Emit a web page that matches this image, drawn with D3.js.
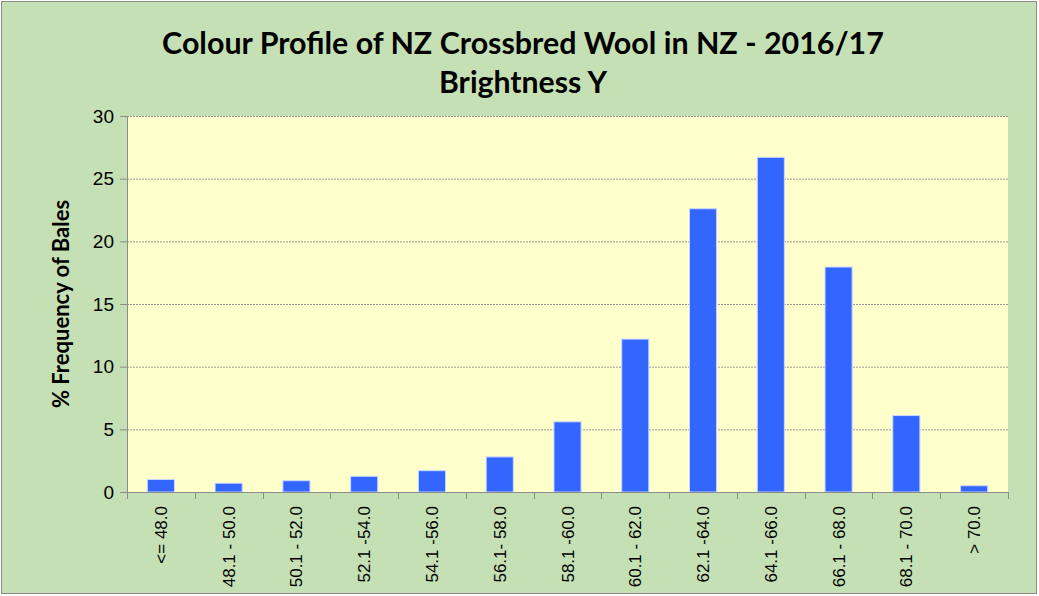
<!DOCTYPE html>
<html>
<head>
<meta charset="utf-8">
<script src="https://cdn.jsdelivr.net/npm/d3@7"></script>
<style>
  html, body { margin: 0; padding: 0; background: #fff; }
  svg { display: block; }
</style>
</head>
<body>
<svg width="1039" height="596"></svg>
<script>
const titleLines = ["Colour Profile of NZ Crossbred Wool in NZ - 2016/17", "Brightness Y"];
const yLabel = "% Frequency of Bales";
const categories = [
  "<= 48.0", "48.1 - 50.0", "50.1 - 52.0", "52.1 -54.0", "54.1 -56.0", "56.1- 58.0",
  "58.1 -60.0", "60.1 - 62.0", "62.1 -64.0", "64.1 -66.0", "66.1 - 68.0", "68.1 - 70.0", "> 70.0",
];
const values = [1.0, 0.7, 0.9, 1.25, 1.7, 2.8, 5.6, 12.2, 22.6, 26.7, 17.95, 6.1, 0.5];
const yTicks = [0, 5, 10, 15, 20, 25, 30];

const W = 1039, H = 596;
const plot = { left: 127, right: 1008, top: 116, bottom: 492 };

const svg = d3.select("svg");

svg.append("rect")
  .attr("x", 1.5).attr("y", 1.5)
  .attr("width", W - 4).attr("height", H - 4)
  .attr("fill", "#c5e0b4")
  .attr("stroke", "#8c8c8c");

svg.append("rect")
  .attr("x", plot.left).attr("y", plot.top)
  .attr("width", plot.right - plot.left).attr("height", plot.bottom - plot.top)
  .attr("fill", "#ffffcc");

const x = d3.scaleBand().domain(categories).range([plot.left, plot.right]).paddingInner(0.6).paddingOuter(0.3);
const y = d3.scaleLinear().domain([0, 30]).range([plot.bottom, plot.top]);

// gridlines
svg.append("g")
  .selectAll("line")
  .data(yTicks.filter(d => d > 0))
  .join("line")
  .attr("x1", plot.left).attr("x2", plot.right)
  .attr("y1", d => y(d) + 0.5).attr("y2", d => y(d) + 0.5)
  .attr("stroke", "#9a9a9a")
  .attr("stroke-dasharray", "2,1");

// bars
svg.append("g")
  .selectAll("rect")
  .data(values)
  .join("rect")
  .attr("x", (d, i) => x(categories[i]))
  .attr("y", d => y(d))
  .attr("width", x.bandwidth())
  .attr("height", d => y(0) - y(d))
  .attr("fill", "#3366ff")
  .attr("stroke", "#c9d6ff")
  .attr("stroke-width", 1);

// y axis
const yAxis = svg.append("g")
  .attr("transform", `translate(${plot.left},0)`)
  .call(d3.axisLeft(y).tickValues(yTicks).tickSize(7).tickPadding(6));
yAxis.select(".domain").attr("stroke", "#8c8c8c");
yAxis.selectAll(".tick line").attr("stroke", "#8c8c8c");
yAxis.selectAll(".tick text")
  .attr("fill", "#000")
  .attr("font-family", "'Liberation Sans', Arial, sans-serif")
  .attr("font-size", 19);

// x axis
const step = x.step();
const boundaries = d3.range(categories.length + 1).map(i => plot.left + i * step);
const xAxisG = svg.append("g");
xAxisG.append("line")
  .attr("x1", plot.left).attr("x2", plot.right)
  .attr("y1", plot.bottom + 0.5).attr("y2", plot.bottom + 0.5)
  .attr("stroke", "#8c8c8c");
xAxisG.selectAll("line.tick")
  .data(boundaries)
  .join("line")
  .attr("class", "tick")
  .attr("x1", d => Math.round(d) + 0.5).attr("x2", d => Math.round(d) + 0.5)
  .attr("y1", plot.bottom).attr("y2", plot.bottom + 7)
  .attr("stroke", "#8c8c8c");
xAxisG.selectAll("text")
  .data(categories)
  .join("text")
  .attr("transform", d => `translate(${x(d) + x.bandwidth() / 2 + 6},${plot.bottom + 14}) rotate(-90)`)
  .attr("text-anchor", "end")
  .attr("font-family", "'Liberation Sans', Arial, sans-serif")
  .attr("font-size", 17)
  .attr("fill", "#000")
  .text(d => d);

// y label
svg.append("text")
  .attr("transform", `translate(69,${(plot.top + plot.bottom) / 2}) rotate(-90)`)
  .attr("text-anchor", "middle")
  .attr("font-family", "Lato, 'Open Sans', sans-serif")
  .attr("font-weight", "bold")
  .attr("font-size", 22)
  .attr("fill", "#000")
  .text(yLabel);

// title
const titleWidths = [722, 168];
svg.selectAll("text.title")
  .data(titleLines)
  .join("text")
  .attr("class", "title")
  .attr("x", 523)
  .attr("y", (d, i) => i === 0 ? 54 : 93)
  .attr("text-anchor", "middle")
  .attr("font-family", "Lato, 'Open Sans', sans-serif")
  .attr("font-weight", "bold")
  .attr("font-size", 28)
  .attr("fill", "#000")
  .text(d => d)
  .each(function (d, i) {
    const w = this.getComputedTextLength();
    d3.select(this).attr("font-size", 28 * titleWidths[i] / w);
  });
</script>
</body>
</html>
